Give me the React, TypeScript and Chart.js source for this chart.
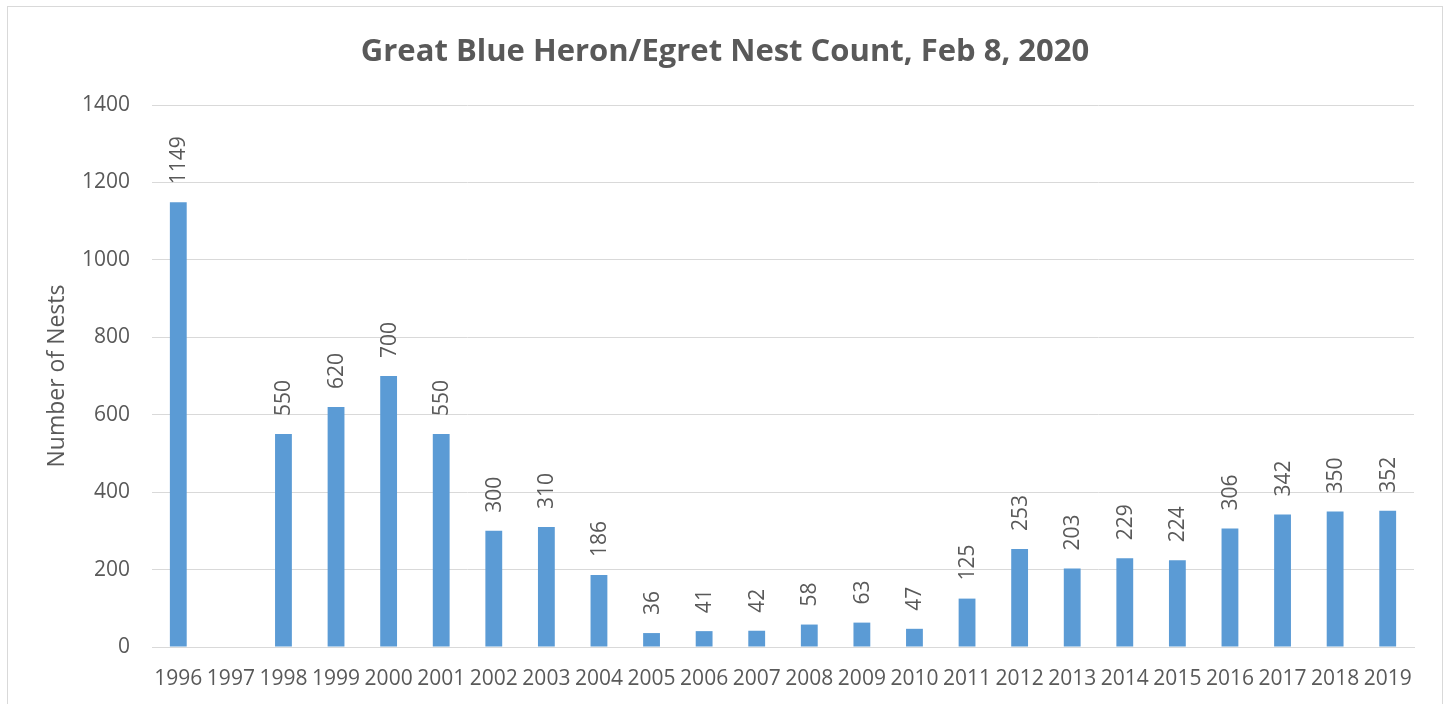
import React, { useEffect, useRef } from "react";
import { Chart, registerables } from "chart.js";

Chart.register(...registerables);

const years: string[] = [
  "1996", "1997", "1998", "1999", "2000", "2001", "2002", "2003", "2004", "2005", "2006", "2007",
  "2008", "2009", "2010", "2011", "2012", "2013", "2014", "2015", "2016", "2017", "2018", "2019",
];
const nests: (number | null)[] = [
  1149, null, 550, 620, 700, 550, 300, 310, 186, 36, 41, 42,
  58, 63, 47, 125, 253, 203, 229, 224, 306, 342, 350, 352,
];
const yTicks: number[] = [0, 200, 400, 600, 800, 1000, 1200, 1400];

const TITLE = "Great Blue Heron/Egret Nest Count, Feb 8, 2020";
const Y_TITLE = "Number of Nests";
const FONT = "'Open Sans', 'Noto Sans', sans-serif";
const TEXT = "#595959";

const decorPlugin = {
  id: "decor",
  afterDatasetsDraw(chart: any) {
    const ctx = chart.ctx;
    const area = chart.chartArea;
    ctx.save();
    // title
    ctx.fillStyle = TEXT;
    ctx.font = `bold 31px ${FONT}`;
    ctx.textAlign = "center";
    ctx.textBaseline = "middle";
    ctx.fillText(TITLE, chart.width / 2, 45);
    // y axis title
    ctx.save();
    ctx.translate(49, (area.top + area.bottom) / 2);
    ctx.rotate(-Math.PI / 2);
    ctx.font = `23px ${FONT}`;
    ctx.textAlign = "center";
    ctx.textBaseline = "middle";
    ctx.fillText(Y_TITLE, 0, 0);
    ctx.restore();
    // data labels
    const meta = chart.getDatasetMeta(0);
    ctx.font = `21px ${FONT}`;
    meta.data.forEach((bar: any, i: number) => {
      const v = nests[i];
      if (v === null || v === undefined) return;
      ctx.save();
      ctx.translate(bar.x, bar.y - 18);
      ctx.rotate(-Math.PI / 2);
      ctx.textAlign = "left";
      ctx.textBaseline = "middle";
      ctx.fillText(String(v), 0, 1);
      ctx.restore();
    });
    ctx.restore();
  },
};

export default function App() {
  const ref = useRef<HTMLCanvasElement | null>(null);

  useEffect(() => {
    if (!ref.current) return;
    const chart = new Chart(ref.current, {
      type: "bar",
      data: {
        labels: years,
        datasets: [
          {
            data: nests as any,
            backgroundColor: "#5B9BD5",
            borderWidth: 0,
            categoryPercentage: 1,
            barPercentage: 0.32,
          },
        ],
      },
      options: {
        animation: false,
        responsive: false,
        maintainAspectRatio: false,
        layout: { padding: { top: 98, right: 28, left: 0, bottom: 0 } },
        plugins: {
          legend: { display: false },
          title: { display: false },
          tooltip: { enabled: false },
        },
        scales: {
          x: {
            grid: { display: false, drawTicks: false },
            border: { display: true, color: "#D9D9D9", width: 1 },
            ticks: {
              color: TEXT,
              font: { family: FONT, size: 21 },
              autoSkip: false,
              maxRotation: 0,
              minRotation: 0,
              padding: 19,
            },
            afterFit(scale: any) {
              scale.height = 57;
            },
          },
          y: {
            min: 0,
            max: 1400,
            afterBuildTicks(scale: any) {
              scale.ticks = yTicks.map((v) => ({ value: v }));
            },
            grid: { color: "#D9D9D9", lineWidth: 1, drawTicks: false },
            border: { display: false },
            ticks: {
              color: TEXT,
              font: { family: FONT, size: 21 },
              padding: 22,
              callback: (v: any) => String(v),
            },
            afterFit(scale: any) {
              scale.width = 144;
            },
          },
        },
      },
      plugins: [decorPlugin],
    });
    return () => chart.destroy();
  }, []);

  return (
    <div
      style={{
        position: "absolute",
        left: 7,
        top: 6,
        width: 1434,
        height: 720,
        border: "1px solid #D9D9D9",
        background: "#fff",
        overflow: "hidden",
      }}
    >
      <canvas ref={ref} width={1434} height={697} style={{ display: "block", width: 1434, height: 697 }} />
    </div>
  );
}
